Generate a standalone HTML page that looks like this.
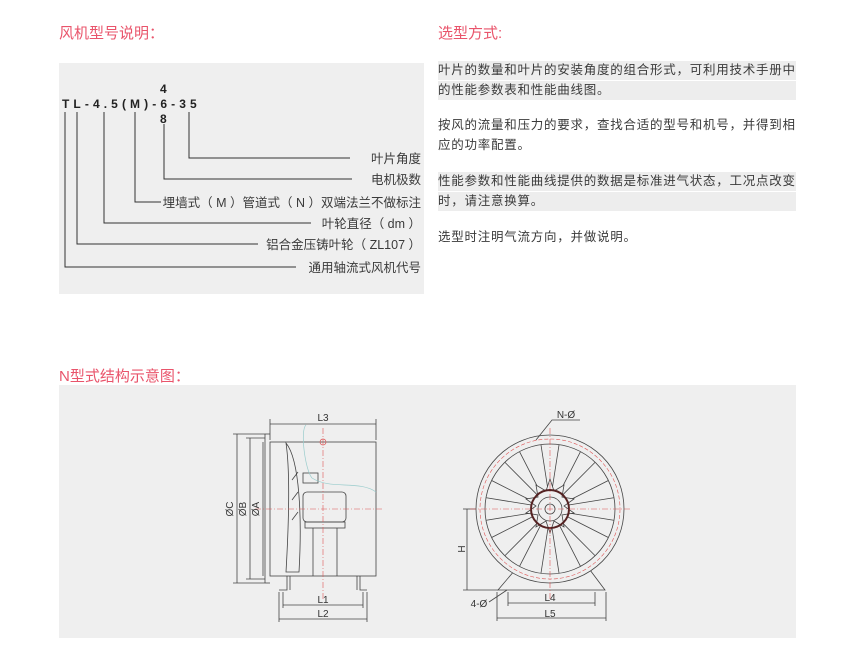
<!DOCTYPE html>
<html><head><meta charset="utf-8">
<style>
body{margin:0;width:850px;height:666px;background:#fff;position:relative;overflow:hidden;font-family:"Liberation Sans","Noto Sans CJK SC",sans-serif;color:#3a3a3a}
.t{position:absolute;color:#e9546b;font-size:15px;white-space:nowrap}
.p{position:absolute;left:438px;width:358px;font-size:12.5px;line-height:19px;white-space:nowrap;letter-spacing:0.75px}
.g{background:#ededed}
</style></head><body>
<div class="t" style="left:59px;top:22px">风机型号说明：</div>
<div class="t" style="left:438px;top:22px">选型方式:</div>
<div style="position:absolute;left:59px;top:63px;width:365px;height:231px;background:#efefef"></div>
<div style="position:absolute;left:59px;top:385px;width:737px;height:253px;background:#efefef"></div>

<div class="p g" style="top:61px;height:19px">叶片的数量和叶片的安装角度的组合形式，可利用技术手册中</div>
<div class="p g" style="top:81px;height:19px">的性能参数表和性能曲线图。</div>
<div class="p" style="top:116px">按风的流量和压力的要求，查找合适的型号和机号，并得到相</div>
<div class="p" style="top:136px">应的功率配置。</div>
<div class="p g" style="top:172px;height:19px">性能参数和性能曲线提供的数据是标准进气状态，工况点改变</div>
<div class="p g" style="top:192px;height:19px">时，请注意换算。</div>
<div class="p" style="top:228px">选型时注明气流方向，并做说明。</div>

<svg width="850" height="666" style="position:absolute;left:0;top:0" font-family="Liberation Sans, Noto Sans CJK SC, sans-serif">
<g font-size="12" font-weight="bold" fill="#222">
<text x="62" y="108" letter-spacing="4.1">TL-4.5(M)-6-35</text>
<text x="160" y="93">4</text><text x="160" y="123">8</text>
</g>
<g stroke="#333" stroke-width="1" fill="none">
<polyline points="189,112 189,158 350,158"/>
<polyline points="164,124 164,179 352,179"/>
<polyline points="135,112 135,202 161,202"/>
<polyline points="104,112 104,223 311,223"/>
<polyline points="77,112 77,244 258,244"/>
<polyline points="65,112 65,267 296,267"/>
</g>
<g font-size="12.5" fill="#3a3a3a" text-anchor="end">
<text x="421" y="163">叶片角度</text>
<text x="421" y="184">电机极数</text>
<text x="421" y="207">埋墙式（ M ）管道式（ N ）双端法兰不做标注</text>
<text x="421" y="228">叶轮直径（ dm ）</text>
<text x="421" y="249">铝合金压铸叶轮（ ZL107 ）</text>
<text x="421" y="272">通用轴流式风机代号</text>
</g>
<text x="59" y="381" font-size="15" fill="#e9546b">N型式结构示意图：</text>

<!-- side view -->
<g stroke="#444" stroke-width="0.8" fill="none">
<rect x="270" y="442" width="106" height="134"/>
<line x1="265" y1="434" x2="265" y2="583"/><line x1="265" y1="434" x2="270" y2="434"/><line x1="265" y1="583" x2="270" y2="583"/>
<path d="M287,576 V590 H279 M360,576 V590 H367"/>
<path d="M290,576 V590 M357,576 V590"/>
<path d="M286,443 C300,460 302,520 299,572 L286,572 C289,520 290,470 286,443Z"/>
<path d="M292,480 l6,-8 M292,500 l6,-8 M292,520 l6,-8"/>
<rect x="303" y="492" width="43" height="30" rx="4"/>
<rect x="303" y="473" width="15" height="10"/>
<rect x="305" y="522" width="40" height="6"/>
<line x1="313" y1="528" x2="313" y2="576"/><line x1="337" y1="528" x2="337" y2="576"/>
<line x1="270" y1="424" x2="376" y2="424"/><line x1="270" y1="419" x2="270" y2="440"/><line x1="376" y1="419" x2="376" y2="440"/>
<line x1="237" y1="434" x2="237" y2="583"/><line x1="233" y1="434" x2="265" y2="434"/><line x1="233" y1="583" x2="265" y2="583"/>
<line x1="250" y1="438" x2="250" y2="579"/><line x1="246" y1="438" x2="265" y2="438"/><line x1="246" y1="579" x2="265" y2="579"/>
<line x1="263" y1="442" x2="263" y2="576"/>
<line x1="283" y1="605" x2="363" y2="605"/><line x1="283" y1="592" x2="283" y2="608"/><line x1="363" y1="592" x2="363" y2="608"/>
<line x1="279" y1="619" x2="367" y2="619"/><line x1="279" y1="592" x2="279" y2="622"/><line x1="367" y1="592" x2="367" y2="622"/>
</g>
<path d="M306,425 C300,430 305,470 312,478 C330,490 360,480 376,492" stroke="#9cc" stroke-width="0.7" fill="none"/>
<g stroke="#d55" stroke-width="0.6" stroke-dasharray="6,2,1,2" fill="none">
<line x1="323" y1="428" x2="323" y2="600"/><line x1="255" y1="509" x2="382" y2="509"/>
</g>
<circle cx="323" cy="442" r="3" stroke="#d55" fill="none" stroke-width="0.7"/>
<g font-size="10" fill="#333" text-anchor="middle">
<text x="323" y="421">L3</text><text x="323" y="603">L1</text><text x="323" y="617">L2</text>
<text transform="translate(233,509) rotate(-90)">ØC</text>
<text transform="translate(246,509) rotate(-90)">ØB</text>
<text transform="translate(259,509) rotate(-90)">ØA</text>
</g>

<!-- front view -->
<g stroke="#444" stroke-width="0.8" fill="none">
<path d="M515,570 L498,590 H605 L590,570"/>
<circle cx="550" cy="509" r="74" fill="#efefef"/>
<circle cx="550" cy="509" r="65"/>
<g id="bl">
<path d="M548,490 L541,445 M552,490 L559,445"/>
</g>
<use href="#bl" transform="rotate(36 550 509)"/><use href="#bl" transform="rotate(72 550 509)"/>
<use href="#bl" transform="rotate(108 550 509)"/><use href="#bl" transform="rotate(144 550 509)"/>
<use href="#bl" transform="rotate(180 550 509)"/><use href="#bl" transform="rotate(216 550 509)"/>
<use href="#bl" transform="rotate(252 550 509)"/><use href="#bl" transform="rotate(288 550 509)"/>
<use href="#bl" transform="rotate(324 550 509)"/>
<path d="M550,479 l4,12 10,-6 -2,12 12,2 -10,7 10,7 -12,2 2,12 -10,-6 -4,12 -4,-12 -10,6 2,-12 -12,-2 10,-7 -10,-7 12,-2 -2,-12 10,6Z" fill="#efefef"/>
<circle cx="550" cy="509" r="19" stroke="#522" stroke-width="2"/>
<circle cx="550" cy="509" r="12"/>
<circle cx="550" cy="509" r="5"/>
<line x1="467" y1="509" x2="467" y2="590"/><line x1="463" y1="509" x2="476" y2="509"/><line x1="463" y1="590" x2="498" y2="590"/>
<line x1="508" y1="603" x2="595" y2="603"/><line x1="508" y1="592" x2="508" y2="606"/><line x1="595" y1="592" x2="595" y2="606"/>
<line x1="497" y1="618" x2="606" y2="618"/><line x1="497" y1="592" x2="497" y2="621"/><line x1="606" y1="592" x2="606" y2="621"/>
<path d="M489,602 L507,590 M536,440 L552,420 H580"/>
</g>
<circle cx="550" cy="509" r="70" stroke="#d55" stroke-width="0.6" stroke-dasharray="4,2" fill="none"/>
<g stroke="#d55" stroke-width="0.6" stroke-dasharray="6,2,1,2"><line x1="550" y1="428" x2="550" y2="600"/><line x1="470" y1="509" x2="630" y2="509"/></g>
<g font-size="10" fill="#333" text-anchor="middle">
<text x="566" y="418">N-Ø</text><text x="550" y="601">L4</text><text x="550" y="617">L5</text>
<text x="479" y="607">4-Ø</text>
<text transform="translate(465,549) rotate(-90)">H</text>
</g>
</svg>
</body></html>
